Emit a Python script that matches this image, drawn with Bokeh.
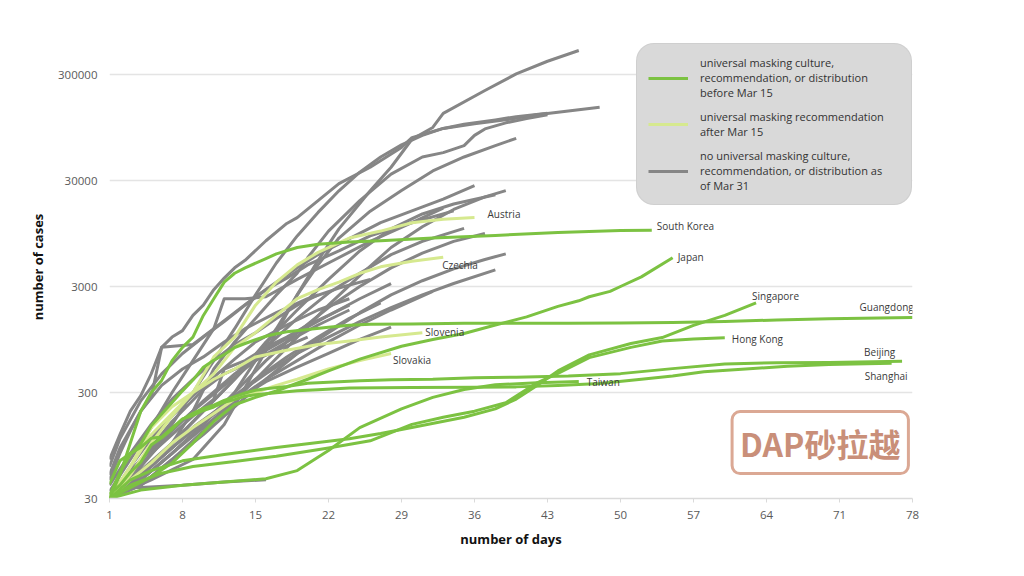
from bokeh.plotting import figure
from bokeh.models import (Range1d, FixedTicker, PrintfTickFormatter, Legend, LegendItem,
                          Label, ColumnDataSource)
from bokeh.embed import file_html
from bokeh.resources import INLINE
from bokeh.core.properties import value

# ---------------- data ----------------
x_ticks = [1, 8, 15, 22, 29, 36, 43, 50, 57, 64, 71, 78]
y_ticks = [30, 300, 3000, 30000, 300000]

# universal masking before Mar 15 (dark green)
south_korea_days = [1, 2, 3, 4, 5, 6, 7, 8, 9, 10, 11, 12, 13, 14, 16, 17, 19, 21, 24, 27, 32, 38, 44, 50, 53]
south_korea_cases = [30, 50, 100, 200, 300, 390, 600, 800, 1000, 1600, 2300, 3300, 4000, 4500, 5500, 6100, 7000, 7500, 7900, 8100, 8600, 9100, 9700, 10100, 10200]
japan_days = [1, 3, 5, 7, 9, 11, 13, 15, 17, 20, 22, 25, 29, 32, 35, 38, 41, 44, 46, 47, 49, 50, 52, 55]
japan_cases = [30, 38, 48, 65, 100, 160, 230, 270, 310, 400, 480, 620, 820, 950, 1080, 1300, 1550, 1950, 2200, 2400, 2700, 3000, 3700, 5600]
singapore_days = [1, 3, 5, 8, 12, 17, 24, 27, 30, 35, 38, 40, 42, 44, 47, 51, 54, 57, 60, 63]
singapore_cases = [30, 45, 55, 68, 78, 91, 110, 123, 140, 175, 210, 260, 350, 480, 680, 870, 990, 1290, 1600, 2100]
hong_kong_days = [1, 3, 6, 9, 13, 17, 22, 26, 30, 33, 36, 39, 42, 44, 47, 51, 54, 57, 60]
hong_kong_cases = [30, 40, 52, 60, 67, 75, 90, 105, 150, 175, 200, 240, 370, 455, 640, 800, 920, 960, 985]
taiwan_days = [1, 4, 8, 12, 16, 19, 22, 25, 29, 32, 35, 38, 42, 46]
taiwan_cases = [30, 36, 40, 43, 46, 55, 85, 140, 210, 270, 320, 355, 370, 380]
guangdong_days = [1, 2, 3, 4, 5, 6, 7, 8, 9, 10, 11, 12, 13, 14, 15, 16, 17, 18, 20, 22, 24, 26, 30, 35, 40, 45, 50, 55, 60, 65, 70, 78]
guangdong_cases = [32, 53, 78, 98, 146, 188, 241, 311, 393, 520, 604, 683, 797, 870, 944, 1018, 1075, 1120, 1177, 1241, 1294, 1322, 1332, 1347, 1350, 1352, 1356, 1370, 1400, 1450, 1490, 1530]
beijing_days = [1, 2, 3, 4, 5, 6, 7, 8, 9, 10, 11, 12, 13, 14, 15, 16, 18, 20, 22, 25, 28, 32, 36, 40, 45, 50, 55, 60, 65, 70, 77]
beijing_cases = [41, 68, 80, 91, 111, 114, 139, 168, 191, 212, 228, 253, 274, 297, 315, 326, 342, 366, 375, 387, 396, 400, 413, 418, 429, 452, 504, 558, 573, 577, 590]
shanghai_days = [1, 2, 3, 4, 5, 6, 7, 8, 9, 10, 11, 12, 13, 14, 15, 17, 19, 21, 24, 30, 36, 40, 44, 48, 52, 55, 58, 62, 66, 70, 76]
shanghai_cases = [33, 40, 53, 66, 96, 112, 135, 169, 182, 203, 219, 243, 257, 277, 286, 299, 311, 318, 330, 334, 337, 339, 350, 365, 400, 430, 470, 500, 530, 550, 565]

# universal masking recommendation after Mar 15 (light green)
austria_days = [1, 3, 5, 7, 9, 11, 13, 15, 17, 19, 21, 24, 27, 30, 33, 36]
austria_cases = [30, 50, 100, 180, 300, 650, 1000, 2000, 3300, 4800, 6300, 8600, 10000, 12000, 12900, 13400]
czechia_days = [1, 3, 5, 7, 9, 11, 13, 15, 17, 19, 21, 23, 25, 27, 30, 33]
czechia_cases = [30, 60, 120, 190, 300, 450, 800, 1100, 1600, 2300, 2800, 3300, 4000, 4600, 5200, 5650]
slovenia_days = [1, 3, 5, 7, 9, 11, 13, 15, 18, 21, 24, 27, 31]
slovenia_cases = [30, 60, 140, 220, 300, 400, 500, 650, 750, 850, 920, 1000, 1100]
slovakia_days = [1, 3, 5, 7, 9, 11, 13, 15, 17, 19, 22, 25, 28]
slovakia_cases = [30, 45, 65, 100, 140, 190, 260, 300, 350, 400, 500, 600, 700]

# no universal masking (grey, unlabelled)
grey_01_days = [1, 5, 9, 12, 15, 17, 19, 21, 23, 26, 28, 30, 32, 33, 37, 40, 43, 46]
grey_01_cases = [30, 45, 70, 150, 500, 1100, 2500, 5300, 10500, 24000, 40000, 73500, 95000, 129000, 212000, 304000, 400000, 505000]
grey_02_days = [1, 2, 3, 4, 5, 6, 7, 8, 9, 10, 11, 12, 13, 14, 16, 18, 19, 21, 23, 26, 29, 30, 33, 36, 39, 42, 45, 48]
grey_02_cases = [70, 120, 200, 280, 450, 800, 1000, 1150, 1600, 2000, 2800, 3600, 4500, 5300, 8100, 11800, 13400, 19400, 28000, 40000, 61500, 76000, 93000, 103000, 112000, 125000, 136000, 147000]
grey_03_days = [1, 3, 5, 7, 9, 11, 13, 15, 17, 19, 21, 23, 25, 27, 29, 31, 33, 35, 38, 40, 43]
grey_03_cases = [30, 45, 80, 150, 300, 600, 1200, 2500, 5000, 9000, 15000, 24000, 36000, 50000, 65000, 80000, 93000, 102000, 112000, 120000, 129000]
grey_04_days = [1, 4, 7, 9, 11, 13, 15, 17, 19, 20, 22, 25, 28, 31, 33, 35, 36, 37, 39, 41, 43]
grey_04_cases = [30, 50, 100, 200, 500, 900, 1500, 2500, 4000, 5600, 10000, 19400, 34500, 50000, 55000, 64000, 80000, 92000, 105000, 115000, 125000]
grey_05_days = [1, 4, 7, 10, 13, 15, 17, 19, 21, 23, 26, 29, 32, 35, 38, 40]
grey_05_cases = [30, 45, 80, 150, 300, 600, 1200, 2500, 4800, 8600, 15400, 24100, 36900, 50000, 64000, 75000]
grey_06_days = [1, 2, 3, 4, 5, 6, 9, 11, 13, 15, 17, 19, 21, 24, 27, 30, 33, 36]
grey_06_cases = [45, 80, 130, 200, 270, 800, 850, 1200, 1700, 2400, 3300, 4500, 6000, 8500, 12000, 15500, 20000, 26800]
grey_07_days = [1, 4, 7, 10, 13, 16, 19, 22, 25, 28, 31, 34, 37, 39]
grey_07_cases = [30, 40, 70, 130, 250, 500, 1000, 2000, 3800, 7000, 11000, 16000, 21000, 24100]
grey_08_days = [1, 4, 7, 10, 13, 16, 19, 22, 25, 28, 31, 34, 38]
grey_08_cases = [30, 55, 100, 200, 400, 900, 1800, 3500, 6500, 10500, 14500, 18000, 22000]
grey_09_days = [1, 4, 7, 10, 13, 16, 19, 22, 25, 28, 31, 35]
grey_09_cases = [30, 50, 100, 200, 400, 800, 1500, 2600, 4000, 6000, 8000, 10600]
grey_10_days = [1, 4, 7, 10, 13, 16, 19, 22, 25, 28, 31, 34, 37]
grey_10_cases = [30, 45, 80, 150, 300, 600, 1100, 1900, 3000, 4500, 6200, 8000, 9500]
grey_11_days = [1, 4, 7, 10, 13, 16, 19, 22, 25, 28, 31, 34, 37, 39]
grey_11_cases = [30, 40, 70, 120, 220, 400, 700, 1100, 1700, 2500, 3400, 4400, 5400, 6100]
grey_12_days = [1, 4, 7, 10, 13, 16, 19, 22, 25, 28, 31, 34, 38]
grey_12_cases = [30, 50, 90, 160, 280, 450, 700, 1000, 1400, 1900, 2500, 3200, 4300]
grey_13_days = [1, 4, 7, 10, 13, 16, 19, 22, 25, 28, 32]
grey_13_cases = [30, 45, 80, 140, 250, 400, 600, 900, 1300, 1800, 2700]
grey_14_days = [1, 4, 7, 10, 13, 16, 19, 22, 25, 28]
grey_14_cases = [30, 60, 130, 250, 450, 750, 1100, 1600, 2300, 3200]
grey_15_days = [1, 4, 7, 10, 13, 16, 19, 22, 25, 28]
grey_15_cases = [30, 50, 90, 160, 250, 380, 520, 700, 950, 1240]
grey_16_days = [1, 3, 4, 8, 12, 16]
grey_16_cases = [30, 38, 38, 40, 43, 45]
grey_17_days = [1, 3, 5, 7, 9, 11, 13, 15, 17, 19, 21]
grey_17_cases = [40, 80, 150, 260, 400, 600, 850, 1100, 1500, 2000, 2500]
grey_18_days = [1, 3, 5, 7, 9, 11, 12, 14, 16, 18, 20, 22, 24]
grey_18_cases = [30, 50, 80, 120, 180, 260, 500, 600, 800, 1000, 1300, 1600, 2000]
grey_19_days = [1, 3, 5, 7, 9, 11, 12, 14, 16, 19, 22, 26, 30, 33]
grey_19_cases = [35, 70, 140, 300, 600, 1200, 2300, 2300, 2400, 3500, 5000, 8000, 12000, 16500]
grey_20_days = [1, 2, 4, 6, 8, 10, 12, 14, 17, 20, 23, 26]
grey_20_cases = [50, 90, 200, 350, 500, 650, 900, 1200, 1700, 2300, 2900, 3500]
grey_21_days = [1, 3, 5, 7, 9, 11, 13, 15, 18, 21, 24]
grey_21_cases = [30, 60, 110, 180, 280, 420, 620, 900, 1300, 1800, 2300]
grey_22_days = [1, 3, 5, 7, 9, 12, 15, 18, 21, 24, 27]
grey_22_cases = [30, 40, 60, 90, 140, 230, 400, 650, 1000, 1500, 2100]
grey_23_days = [1, 2, 4, 6, 8, 10, 12, 14, 16, 18, 20, 23, 26, 30, 34]
grey_23_cases = [60, 110, 250, 450, 700, 1000, 1400, 2000, 2800, 3600, 4800, 6500, 9000, 12000, 15500]
grey_24_days = [1, 3, 6, 9, 12, 15, 18, 21, 24]
grey_24_cases = [30, 55, 110, 200, 350, 600, 900, 1300, 1800]
grey_25_days = [1, 4, 7, 10, 12, 14, 17, 20]
grey_25_cases = [30, 70, 160, 320, 450, 550, 750, 1000]

dark_series = [
    ("South Korea", south_korea_days, south_korea_cases),
    ("Japan", japan_days, japan_cases),
    ("Singapore", singapore_days, singapore_cases),
    ("Hong Kong", hong_kong_days, hong_kong_cases),
    ("Taiwan", taiwan_days, taiwan_cases),
    ("Guangdong", guangdong_days, guangdong_cases),
    ("Beijing", beijing_days, beijing_cases),
    ("Shanghai", shanghai_days, shanghai_cases),
]
light_series = [
    ("Austria", austria_days, austria_cases),
    ("Czechia", czechia_days, czechia_cases),
    ("Slovenia", slovenia_days, slovenia_cases),
    ("Slovakia", slovakia_days, slovakia_cases),
]
grey_series = [
    (grey_01_days, grey_01_cases), (grey_02_days, grey_02_cases), (grey_03_days, grey_03_cases),
    (grey_04_days, grey_04_cases), (grey_05_days, grey_05_cases), (grey_06_days, grey_06_cases),
    (grey_07_days, grey_07_cases), (grey_08_days, grey_08_cases), (grey_09_days, grey_09_cases),
    (grey_10_days, grey_10_cases), (grey_11_days, grey_11_cases), (grey_12_days, grey_12_cases),
    (grey_13_days, grey_13_cases), (grey_14_days, grey_14_cases), (grey_15_days, grey_15_cases),
    (grey_16_days, grey_16_cases), (grey_17_days, grey_17_cases), (grey_18_days, grey_18_cases),
    (grey_19_days, grey_19_cases), (grey_20_days, grey_20_cases), (grey_21_days, grey_21_cases),
    (grey_22_days, grey_22_cases), (grey_23_days, grey_23_cases), (grey_24_days, grey_24_cases),
    (grey_25_days, grey_25_cases),
]

legend_labels = [
    "universal masking culture,\nrecommendation, or distribution\nbefore Mar 15",
    "universal masking recommendation\nafter Mar 15",
    "no universal masking culture,\nrecommendation, or distribution as\nof Mar 31",
]

# ---------------- styling / layout ----------------
DARK = "#7cc242"
LIGHT = "#d6e98f"
GREY = "#868686"
FONT = "Open Sans"

# label offsets (screen px) relative to each series' last point
label_layout = {
    "Austria": (13, -4), "South Korea": (5, -4), "Japan": (5, -1), "Czechia": (-1, 8),
    "Singapore": (-4, -7), "Guangdong": (-53, -10), "Slovenia": (3, -1), "Hong Kong": (7, 1),
    "Beijing": (-38, -9), "Slovakia": (2, 7), "Shanghai": (-27, 13), "Taiwan": (8, 0),
}

p = figure(width=1008, height=560, y_axis_type="log",
           x_range=Range1d(1, 78), y_range=Range1d(30, 700000),
           output_backend="svg", toolbar_location=None,
           min_border_left=109, min_border_right=96, min_border_top=35, min_border_bottom=62)
p.outline_line_color = None
p.background_fill_color = "white"

# axes
p.xaxis.ticker = FixedTicker(ticks=x_ticks)
p.yaxis.ticker = FixedTicker(ticks=y_ticks)
p.yaxis.formatter = PrintfTickFormatter(format="%d")
p.xgrid.visible = False
p.ygrid.grid_line_color = "#e4e4e4"
p.ygrid.grid_line_width = 1.5

for ax in (p.xaxis, p.yaxis):
    ax.major_label_text_font = FONT
    ax.major_label_text_font_size = "11.5px"
    ax.major_label_text_color = "#5a5a5a"
    ax.minor_tick_line_color = None
    ax.axis_label_text_font = FONT
    ax.axis_label_text_font_style = "bold"
    ax.axis_label_text_font_size = "13px"
    ax.axis_label_text_color = "#111111"

p.yaxis.axis_line_color = None
p.yaxis.major_tick_line_color = None
p.yaxis.major_tick_out = 0
p.yaxis.major_label_standoff = 12
p.yaxis.axis_label = "number of cases"
p.yaxis.axis_label_standoff = 8

p.xaxis.axis_line_color = "#dadada"
p.xaxis.axis_line_width = 1.5
p.xaxis.major_tick_line_color = "#dadada"
p.xaxis.major_tick_out = 4
p.xaxis.major_tick_in = 0
p.xaxis.major_label_standoff = 8
p.xaxis.axis_label = "number of days"
p.xaxis.axis_label_standoff = 8

# lines
grey_r = None
for d, c in grey_series:
    grey_r = p.line(d, c, line_color=GREY, line_width=3, line_join="round")
light_r = None
for name, d, c in light_series:
    light_r = p.line(d, c, line_color=LIGHT, line_width=3, line_join="round")
dark_r = None
for name, d, c in dark_series:
    dark_r = p.line(d, c, line_color=DARK, line_width=3, line_join="round")

# end labels
names, lx, ly, xo, yo = [], [], [], [], []
for name, d, c in dark_series + light_series:
    names.append(name)
    lx.append(d[-1])
    ly.append(c[-1])
    ox, oy = label_layout[name]
    xo.append(ox)
    yo.append(oy)
src = ColumnDataSource(dict(x=lx, y=ly, t=names, xo=xo, yo=yo))
p.text(x="x", y="y", text="t", x_offset="xo", y_offset="yo", source=src,
       text_font=value(FONT), text_font_size="10px", text_color="#3a3a3a",
       text_align="left", text_baseline="middle")

# legend
legend = Legend(items=[LegendItem(label=legend_labels[0], renderers=[dark_r]),
                       LegendItem(label=legend_labels[1], renderers=[light_r]),
                       LegendItem(label=legend_labels[2], renderers=[grey_r])],
                location=(527, 293))
legend.label_text_font = FONT
legend.label_text_font_size = "11px"
legend.label_text_color = "#333333"
legend.label_text_line_height = 1.3
legend.glyph_width = 40
legend.label_standoff = 12
legend.label_width = 200
legend.padding = 11
legend.spacing = 9
legend.margin = 0
legend.background_fill_color = "#d9d9d9"
legend.background_fill_alpha = 1.0
legend.border_line_color = "#c6c6c6"
legend.border_line_width = 1
if "border_radius" in legend.properties():
    legend.border_radius = 18
p.add_layout(legend, "center")

# watermark
wm = Label(x=60.7, y=101, x_units="data", y_units="data", text="DAP砂拉越",
           text_font="Noto Sans CJK SC", text_font_style="bold", text_font_size="32px",
           text_color="#c98f79", text_align="left", text_baseline="middle",
           border_line_color="#dba894", border_line_width=3, background_fill_color="white")
if "padding" in wm.properties():
    wm.padding = 8
if "border_radius" in wm.properties():
    wm.border_radius = 8
p.add_layout(wm)

open("out.html", "w").write(file_html(p, INLINE))
